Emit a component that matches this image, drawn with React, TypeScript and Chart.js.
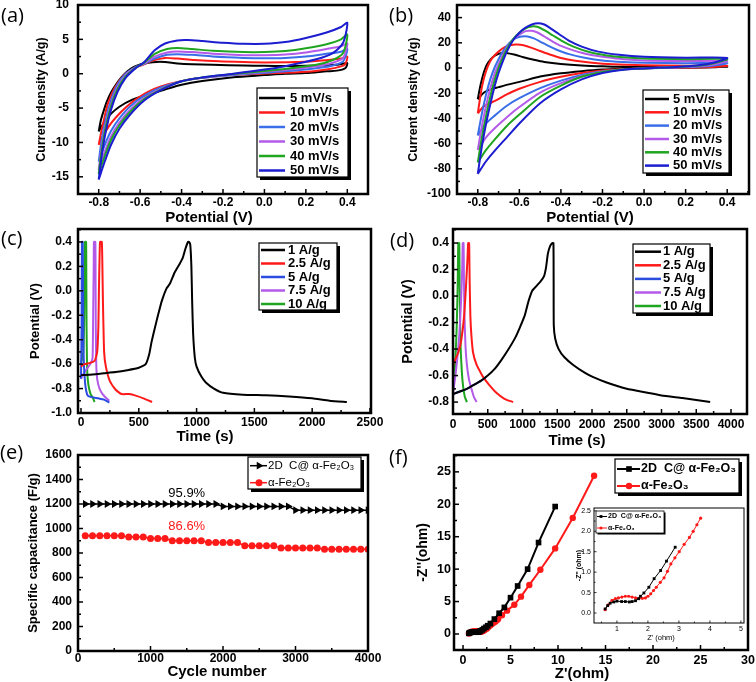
import React, { useEffect, useRef } from 'react';
import { Chart, registerables } from 'chart.js';

Chart.register(...registerables);

const PAGE_W = 756;
const PAGE_H = 682;
const FONT = "'Liberation Sans', Arial, Helvetica, sans-serif";
Chart.defaults.font.family = FONT;

type Pt = [number, number];

// ---------------- (a) CV, scan rates ----------------
const scanRates = ['5 mV/s', '10 mV/s', '20 mV/s', '30 mV/s', '40 mV/s', '50 mV/s'];
const cvColors = ['#000000', '#ff1a1a', '#3a6ee8', '#b35ae8', '#1fa51f', '#1c1cd0'];

const cvA5: Pt[] = [[-0.8,-8.4],[-0.79,-6.8],[-0.775,-5.3],[-0.76,-4.0],[-0.74,-2.7],[-0.715,-1.5],[-0.69,-0.5],[-0.66,0.4],[-0.63,1.0],[-0.6,1.35],[-0.56,1.6],[-0.52,1.72],[-0.48,1.7],[-0.42,1.5],[-0.35,1.38],[-0.25,1.3],[-0.1,1.2],[0.0,1.15],[0.1,1.12],[0.2,1.15],[0.3,1.25],[0.36,1.35],[0.4,1.55],[0.39,0.8],[0.35,0.45],[0.3,0.35],[0.2,0.1],[0.1,0.0],[0.0,-0.2],[-0.15,-0.5],[-0.3,-1.05],[-0.4,-1.6],[-0.48,-2.3],[-0.56,-3.05],[-0.64,-3.8],[-0.7,-4.8],[-0.74,-5.8],[-0.77,-6.9],[-0.8,-8.4]];
const cvA10: Pt[] = [[-0.8,-10.35],[-0.79,-8.8],[-0.78,-7.4],[-0.757,-4.5],[-0.724,-2.1],[-0.676,-0.15],[-0.628,0.83],[-0.587,1.3],[-0.54,1.9],[-0.48,2.3],[-0.42,2.2],[-0.34,2.0],[-0.22,1.8],[-0.1,1.7],[0.0,1.65],[0.15,1.7],[0.25,1.85],[0.31,2.0],[0.37,2.2],[0.4,2.5],[0.39,1.4],[0.37,1.07],[0.3,0.6],[0.226,0.34],[0.065,0.1],[-0.05,-0.05],[-0.18,-0.24],[-0.34,-0.73],[-0.42,-1.2],[-0.5,-1.85],[-0.56,-2.6],[-0.61,-3.5],[-0.65,-4.4],[-0.69,-5.5],[-0.74,-7.2],[-0.78,-9.1],[-0.8,-10.35]];
const cvA20: Pt[] = [[-0.8,-12.8],[-0.785,-9.5],[-0.765,-6.5],[-0.74,-3.8],[-0.71,-1.6],[-0.67,0.0],[-0.62,1.0],[-0.58,1.45],[-0.53,2.2],[-0.47,2.75],[-0.42,2.85],[-0.35,2.75],[-0.25,2.5],[-0.1,2.3],[0.0,2.25],[0.1,2.3],[0.2,2.5],[0.3,2.9],[0.37,3.2],[0.4,3.6],[0.38,1.8],[0.33,1.2],[0.25,0.8],[0.1,0.35],[0.0,0.15],[-0.15,-0.2],[-0.3,-0.6],[-0.4,-1.1],[-0.5,-2.0],[-0.58,-3.2],[-0.65,-4.8],[-0.7,-6.5],[-0.74,-8.3],[-0.77,-10.3],[-0.8,-12.8]];
const cvA30: Pt[] = [[-0.8,-14.0],[-0.785,-10.5],[-0.765,-7.2],[-0.74,-4.4],[-0.71,-2.0],[-0.67,-0.2],[-0.62,0.95],[-0.58,1.5],[-0.53,2.5],[-0.47,3.1],[-0.42,3.25],[-0.35,3.15],[-0.25,2.9],[-0.1,2.7],[0.0,2.7],[0.1,2.8],[0.2,3.1],[0.3,3.6],[0.37,4.0],[0.4,4.4],[0.38,2.3],[0.33,1.6],[0.25,1.1],[0.1,0.55],[0.0,0.3],[-0.15,-0.1],[-0.3,-0.6],[-0.4,-1.1],[-0.5,-2.2],[-0.58,-3.5],[-0.65,-5.3],[-0.7,-7.1],[-0.74,-9.1],[-0.77,-11.3],[-0.8,-14.0]];
const cvA40: Pt[] = [[-0.8,-14.6],[-0.785,-11.0],[-0.765,-7.6],[-0.74,-4.7],[-0.71,-2.3],[-0.67,-0.4],[-0.62,0.9],[-0.58,1.6],[-0.53,2.9],[-0.47,3.6],[-0.42,3.75],[-0.35,3.6],[-0.25,3.35],[-0.1,3.15],[0.0,3.15],[0.1,3.3],[0.2,3.7],[0.3,4.3],[0.37,5.0],[0.4,5.7],[0.38,3.0],[0.33,2.0],[0.25,1.3],[0.1,0.7],[0.0,0.4],[-0.15,-0.05],[-0.3,-0.55],[-0.4,-1.1],[-0.5,-2.3],[-0.58,-3.7],[-0.65,-5.6],[-0.7,-7.5],[-0.74,-9.6],[-0.77,-11.9],[-0.8,-14.6]];
const cvA50: Pt[] = [[-0.8,-15.4],[-0.785,-11.8],[-0.765,-8.3],[-0.74,-5.2],[-0.71,-2.7],[-0.67,-0.6],[-0.62,0.85],[-0.58,1.7],[-0.53,3.4],[-0.48,4.4],[-0.42,4.85],[-0.37,4.9],[-0.3,4.75],[-0.2,4.5],[-0.1,4.35],[0.0,4.35],[0.1,4.6],[0.2,5.2],[0.3,6.0],[0.37,6.8],[0.4,7.4],[0.38,4.5],[0.33,3.0],[0.25,2.1],[0.1,1.1],[0.0,0.6],[-0.15,0.0],[-0.3,-0.55],[-0.4,-1.1],[-0.5,-2.4],[-0.58,-3.9],[-0.65,-6.0],[-0.7,-8.0],[-0.74,-10.3],[-0.77,-12.7],[-0.8,-15.4]];

// ---------------- (b) CV ----------------
const cvB5: Pt[] = [[-0.8,-24.8],[-0.79,-16],[-0.78,-9],[-0.77,-3],[-0.757,2.5],[-0.74,6.5],[-0.72,9.5],[-0.7,11.2],[-0.68,12],[-0.66,11.8],[-0.62,10.5],[-0.58,8.5],[-0.53,6.5],[-0.48,4.8],[-0.4,3.2],[-0.3,2.0],[-0.2,1.3],[-0.1,0.9],[0.0,0.7],[0.2,0.6],[0.4,1.0],[0.3,0.4],[0.1,0.2],[0.0,0.0],[-0.1,-0.5],[-0.2,-1.2],[-0.3,-2.5],[-0.4,-4.2],[-0.5,-6.8],[-0.58,-10.2],[-0.65,-13],[-0.7,-15.2],[-0.74,-17],[-0.77,-19.5],[-0.8,-24.8]];
const cvB10: Pt[] = [[-0.8,-36],[-0.79,-25],[-0.78,-15],[-0.765,-5],[-0.75,2],[-0.73,8],[-0.7,13],[-0.67,16.5],[-0.64,18.3],[-0.61,18.6],[-0.58,18],[-0.54,16],[-0.5,13.5],[-0.45,10.5],[-0.4,8],[-0.33,5.8],[-0.25,4.2],[-0.15,3.0],[0.0,2.2],[0.2,1.7],[0.4,1.7],[0.3,0.6],[0.1,0.1],[0.0,-0.2],[-0.1,-0.8],[-0.2,-2.0],[-0.3,-4],[-0.4,-7],[-0.5,-11],[-0.6,-16.5],[-0.66,-21],[-0.71,-25.5],[-0.75,-28.5],[-0.775,-31],[-0.8,-36]];
const cvB20: Pt[] = [[-0.8,-53.6],[-0.78,-36],[-0.76,-21],[-0.74,-9],[-0.72,0],[-0.7,7],[-0.68,13],[-0.65,19.5],[-0.62,23.5],[-0.59,25],[-0.56,25],[-0.53,23.5],[-0.5,21],[-0.46,17.5],[-0.42,14.5],[-0.36,11],[-0.28,8],[-0.2,6],[-0.1,4.8],[0.0,4.2],[0.2,3.8],[0.4,3.8],[0.3,1.3],[0.15,0.4],[0.0,-0.3],[-0.1,-1.2],[-0.2,-2.8],[-0.3,-5.5],[-0.4,-10],[-0.5,-16],[-0.6,-24],[-0.66,-30],[-0.72,-38],[-0.76,-44],[-0.8,-53.6]];
const cvB30: Pt[] = [[-0.8,-65],[-0.78,-46],[-0.76,-30],[-0.74,-16],[-0.72,-5],[-0.7,3],[-0.68,10],[-0.66,16],[-0.63,22.5],[-0.6,26.5],[-0.57,29.3],[-0.54,29.5],[-0.51,28],[-0.48,25],[-0.44,21],[-0.4,17.5],[-0.34,14],[-0.26,10.5],[-0.18,8.5],[-0.1,7],[0.0,6],[0.2,5.5],[0.4,5.5],[0.3,2],[0.15,0.6],[0.0,-0.3],[-0.1,-1.2],[-0.2,-3],[-0.3,-6.5],[-0.4,-12],[-0.5,-19.5],[-0.6,-31],[-0.66,-39],[-0.72,-48],[-0.76,-55],[-0.8,-65]];
const cvB40: Pt[] = [[-0.8,-75],[-0.78,-55],[-0.76,-38],[-0.74,-23],[-0.72,-10],[-0.7,0],[-0.68,8],[-0.66,15],[-0.63,23],[-0.6,28],[-0.57,31.5],[-0.54,33],[-0.51,32.5],[-0.48,30],[-0.44,26],[-0.4,22],[-0.34,17],[-0.26,12.5],[-0.18,10],[-0.1,8.5],[0.0,7.5],[0.2,7],[0.4,7],[0.3,2.5],[0.15,0.8],[0.0,-0.3],[-0.1,-1.2],[-0.2,-3.2],[-0.3,-7],[-0.4,-14],[-0.5,-23],[-0.6,-37],[-0.66,-46],[-0.72,-57],[-0.76,-65],[-0.8,-75]];
const cvB50: Pt[] = [[-0.8,-84],[-0.78,-62],[-0.76,-44],[-0.74,-29],[-0.72,-15],[-0.7,-4],[-0.68,5],[-0.66,13],[-0.63,22],[-0.6,28],[-0.57,32],[-0.54,34.5],[-0.51,35.5],[-0.48,34.5],[-0.45,31.5],[-0.41,27],[-0.36,21.5],[-0.3,17],[-0.22,13],[-0.12,10.5],[0.0,9],[0.2,8.2],[0.4,8],[0.3,3],[0.15,0.8],[0.0,-0.3],[-0.1,-1.3],[-0.2,-4],[-0.3,-9],[-0.4,-17],[-0.5,-28],[-0.6,-44],[-0.66,-55],[-0.72,-66],[-0.76,-74],[-0.8,-84]];

// ---------------- (c) GCD ----------------
const currents = ['1 A/g', '2.5 A/g', '5 A/g', '7.5 A/g', '10 A/g'];
const gcdColors = ['#000000', '#ff1a1a', '#2a4de0', '#b35ae8', '#1fa51f'];
const gcdC1: Pt[] = [[0,-0.69],[100,-0.685],[200,-0.675],[300,-0.665],[400,-0.65],[500,-0.63],[560,-0.6],[590,-0.52],[610,-0.42],[640,-0.3],[666,-0.2],[700,-0.08],[740,0.02],[770,0.06],[810,0.15],[853,0.22],[880,0.27],[902,0.34],[925,0.4],[935,0.4],[945,0.38],[955,0.2],[962,-0.1],[970,-0.35],[985,-0.55],[1000,-0.62],[1040,-0.7],[1080,-0.75],[1150,-0.8],[1230,-0.835],[1400,-0.85],[1600,-0.855],[1800,-0.865],[2000,-0.88],[2150,-0.9],[2300,-0.91]];
const gcdC2: Pt[] = [[0,-0.62],[30,-0.6],[80,-0.59],[120,-0.57],[140,-0.5],[150,-0.3],[155,0.0],[160,0.25],[165,0.4],[180,0.4],[185,0.2],[190,-0.1],[200,-0.5],[215,-0.62],[250,-0.74],[300,-0.81],[350,-0.845],[420,-0.845],[480,-0.86],[540,-0.88],[615,-0.91]];
const gcdC3: Pt[] = [[0,-0.72],[5,-0.3],[8,0.4],[15,0.4],[18,0.0],[20,-0.4],[25,-0.6],[35,-0.75],[45,-0.82],[60,-0.86],[90,-0.87],[150,-0.88],[200,-0.89],[245,-0.915]];
const gcdC4: Pt[] = [[0,-0.72],[20,-0.68],[50,-0.64],[80,-0.6],[100,-0.55],[105,-0.2],[110,0.2],[112,0.4],[124,0.4],[126,0.1],[128,-0.3],[132,-0.6],[140,-0.72],[160,-0.8],[190,-0.85],[220,-0.88],[245,-0.9]];
const gcdC5: Pt[] = [[0,-0.6],[10,-0.55],[20,-0.5],[28,-0.2],[32,0.2],[34,0.4],[44,0.4],[46,0.1],[48,-0.3],[52,-0.6],[58,-0.72],[70,-0.8],[85,-0.85],[100,-0.87],[118,-0.91]];

// ---------------- (d) GCD ----------------
const gcdD1: Pt[] = [[0,-0.74],[100,-0.72],[200,-0.7],[300,-0.67],[400,-0.64],[500,-0.6],[600,-0.55],[700,-0.48],[800,-0.4],[900,-0.31],[960,-0.24],[1030,-0.15],[1080,-0.05],[1110,0.0],[1140,0.04],[1200,0.075],[1260,0.11],[1310,0.15],[1340,0.22],[1365,0.32],[1400,0.38],[1430,0.4],[1445,0.4],[1448,0.1],[1450,-0.22],[1470,-0.32],[1520,-0.4],[1600,-0.46],[1730,-0.52],[1900,-0.58],[2010,-0.61],[2200,-0.65],[2500,-0.7],[2800,-0.73],[3000,-0.75],[3300,-0.77],[3500,-0.785],[3700,-0.8]];
const gcdD2: Pt[] = [[0,-0.52],[40,-0.47],[80,-0.42],[120,-0.33],[160,-0.15],[190,0.1],[210,0.3],[218,0.4],[232,0.4],[240,0.1],[250,-0.15],[265,-0.3],[290,-0.43],[340,-0.52],[400,-0.58],[432,-0.61],[520,-0.67],[624,-0.73],[740,-0.775],[865,-0.8]];
const gcdD3: Pt[] = [[0,-0.74],[100,-0.72],[200,-0.7],[300,-0.67],[400,-0.64],[480,-0.61]];
const gcdD4: Pt[] = [[0,-0.73],[30,-0.62],[60,-0.48],[90,-0.3],[115,-0.05],[132,0.2],[140,0.4],[152,0.4],[158,0.1],[165,-0.15],[180,-0.38],[200,-0.52],[230,-0.63],[265,-0.7],[300,-0.76],[340,-0.8]];
const gcdD5: Pt[] = [[0,-0.72],[20,-0.6],[40,-0.42],[55,-0.2],[68,0.1],[76,0.4],[90,0.4],[96,0.1],[102,-0.2],[112,-0.42],[128,-0.58],[145,-0.68],[170,-0.76],[200,-0.8]];

// ---------------- (e) cycling ----------------
const seriesNames = ['2D  C@ \u03b1-Fe\u2082O\u2083', '\u03b1-Fe\u2082O\u2083'];
const cycles = [100,200,300,400,500,600,700,800,900,1000,1100,1200,1300,1400,1500,1600,1700,1800,1900,2000,2100,2200,2300,2400,2500,2600,2700,2800,2900,3000,3100,3200,3300,3400,3500,3600,3700,3800,3900,4000];
const capComposite = [1200,1200,1200,1200,1200,1200,1200,1200,1200,1200,1200,1200,1200,1200,1200,1200,1200,1200,1200,1180,1180,1180,1180,1180,1180,1180,1180,1180,1180,1150,1150,1150,1150,1150,1150,1150,1150,1150,1150,1150];
const capFe2O3 = [940,940,940,940,940,940,930,930,930,918,918,918,900,900,900,900,900,885,885,885,885,885,860,860,860,860,860,840,840,840,840,840,840,830,830,830,830,830,830,830];
const retention = ['95.9%', '86.6%'];

// ---------------- (f) Nyquist ----------------
const zReComposite = [0.62,0.7,0.78,0.9,1.0,1.15,1.27,1.4,1.49,1.6,1.7,1.76,1.87,2.03,2.2,2.41,2.6,2.88,3.3,3.8,4.35,5.0,5.75,6.8,7.95,9.7];
const zImComposite = [0.1,0.18,0.24,0.27,0.29,0.28,0.28,0.27,0.28,0.3,0.35,0.41,0.49,0.63,0.84,1.04,1.27,1.61,2.3,3.2,4.1,5.6,7.4,10.0,14.1,19.65];
const zReFe2O3 = [0.62,0.72,0.84,0.95,1.05,1.16,1.27,1.38,1.49,1.6,1.71,1.82,1.92,2.0,2.09,2.18,2.27,2.4,2.52,2.63,2.74,2.87,3.01,3.17,3.34,3.46,3.58,3.7,4.1,4.63,5.4,6.1,6.98,8.14,9.7,11.55,13.8];
const zImFe2O3 = [0.08,0.2,0.31,0.35,0.37,0.39,0.41,0.41,0.39,0.37,0.36,0.36,0.37,0.41,0.47,0.55,0.63,0.75,0.86,1.02,1.2,1.35,1.5,1.68,1.85,2.0,2.16,2.32,2.9,3.6,4.5,5.76,7.56,9.9,13.2,17.9,24.4];
// inset (high-frequency region) shows only the first points of each spectrum
const insetPointsComposite = 18;
const insetPointsFe2O3 = 28;

// ---------------- tick values ----------------
const cvXTicks = [-0.8, -0.6, -0.4, -0.2, 0, 0.2, 0.4];
const aYTicks = [-15, -10, -5, 0, 5, 10];
const bYTicks = [-100, -80, -60, -40, -20, 0, 20, 40];
const cXTicks = [0, 500, 1000, 1500, 2000, 2500];
const cYTicks = [-1.0, -0.8, -0.6, -0.4, -0.2, 0, 0.2, 0.4];
const dXTicks = [0, 500, 1000, 1500, 2000, 2500, 3000, 3500, 4000];
const dYTicks = [-0.8, -0.6, -0.4, -0.2, 0, 0.2, 0.4];
const eXTicks = [0, 1000, 2000, 3000, 4000];
const eYTicks = [0, 200, 400, 600, 800, 1000, 1200, 1400, 1600];
const fXTicks = [0, 5, 10, 15, 20, 25, 30];
const fYTicks = [0, 5, 10, 15, 20, 25];
const insetXTicks = [1, 2, 3, 4, 5];
const insetYTicks = [0, 0.5, 1.0, 1.5, 2.0, 2.5];

// ---------------- helpers ----------------
const fmt1 = (v: number) => (Math.abs(v) < 1e-9 ? 0 : v).toFixed(1);
const fmt0 = (v: number) => String(Math.round(v));
const toXY = (a: Pt[]) => a.map(([x, y]) => ({ x, y }));
const zip = (xs: number[], ys: number[], n = xs.length) => xs.slice(0, n).map((x, i) => ({ x, y: ys[i] }));

interface AxisSpec {
  min: number; max: number; ticks: number[]; fmt: (v: number) => string;
  tickFont: number; tickPad: number; title?: string; titleFont?: number; tickWeight?: string;
}
interface LegendSpec {
  x: number; y: number; w: number; h: number; shadow: number; frameW: number;
  lx1: number; lx2: number; tx: number; rows: number[]; font: string; lineW: number;
  markerX?: number; markerScale?: number;
}
interface Decor {
  frameW: number; tickW: number; majorLen: number; minorLen: number;
  xTitle?: { text: string; x: number; y: number; font: string };
  legend?: LegendSpec;
  notes?: { text: string; x: number; y: number; color: string; font: string }[];
  whiteBg?: boolean;
}
interface Panel {
  area: { l: number; t: number; r: number; b: number };
  yTitleX: number;
  x: AxisSpec; y: AxisSpec;
  datasets: any[];
  decor: Decor;
}

function drawMarker(ctx: CanvasRenderingContext2D, style: string, x: number, y: number, r: number, color: string) {
  ctx.fillStyle = color;
  ctx.beginPath();
  if (style === 'rect') {
    const s = r * Math.SQRT1_2;
    ctx.rect(x - s, y - s, 2 * s, 2 * s);
  } else if (style === 'triangle') {
    ctx.moveTo(x + r, y);
    ctx.lineTo(x - r * 0.5, y - r * 0.866);
    ctx.lineTo(x - r * 0.5, y + r * 0.866);
    ctx.closePath();
  } else {
    ctx.arc(x, y, r, 0, Math.PI * 2);
  }
  ctx.fill();
}

function makeDecor(d: Decor) {
  return {
    id: 'decor',
    beforeDraw(chart: any) {
      if (!d.whiteBg) return;
      const { ctx, chartArea: a } = chart;
      ctx.save();
      ctx.fillStyle = '#ffffff';
      ctx.fillRect(a.left, a.top, a.right - a.left, a.bottom - a.top);
      ctx.restore();
    },
    afterDraw(chart: any) {
      const { ctx, chartArea: a } = chart;
      const xs = chart.scales.x;
      const ys = chart.scales.y;
      ctx.save();
      ctx.strokeStyle = '#000';
      ctx.lineWidth = d.tickW;
      const minorVals = (sc: any) => {
        const tv = sc.ticks.map((t: any) => t.value);
        const out: number[] = [];
        if (tv.length < 2) return out;
        const step = tv[1] - tv[0];
        for (let v = tv[0] - step / 2; v <= sc.max + 1e-9; v += step) {
          if (v >= sc.min - 1e-9) out.push(v);
        }
        return out;
      };
      const tickX = (v: number, len: number) => {
        const p = xs.getPixelForValue(v);
        ctx.beginPath(); ctx.moveTo(p, a.bottom); ctx.lineTo(p, a.bottom - len); ctx.stroke();
      };
      const tickY = (v: number, len: number) => {
        const p = ys.getPixelForValue(v);
        ctx.beginPath(); ctx.moveTo(a.left, p); ctx.lineTo(a.left + len, p); ctx.stroke();
      };
      xs.ticks.forEach((t: any) => tickX(t.value, d.majorLen));
      ys.ticks.forEach((t: any) => tickY(t.value, d.majorLen));
      minorVals(xs).forEach((v) => tickX(v, d.minorLen));
      minorVals(ys).forEach((v) => tickY(v, d.minorLen));

      ctx.lineWidth = d.frameW;
      ctx.strokeRect(a.left, a.top, a.right - a.left, a.bottom - a.top);

      if (d.xTitle) {
        ctx.fillStyle = '#000';
        ctx.font = d.xTitle.font;
        ctx.textAlign = 'center';
        ctx.textBaseline = 'middle';
        ctx.fillText(d.xTitle.text, d.xTitle.x, d.xTitle.y);
      }
      if (d.notes) {
        d.notes.forEach((n) => {
          ctx.fillStyle = n.color;
          ctx.font = n.font;
          ctx.textAlign = 'center';
          ctx.textBaseline = 'middle';
          ctx.fillText(n.text, xs.getPixelForValue(n.x), ys.getPixelForValue(n.y));
        });
      }
      const L = d.legend;
      if (L) {
        ctx.fillStyle = '#000';
        ctx.fillRect(L.x + L.shadow, L.y + L.shadow, L.w, L.h);
        ctx.fillStyle = '#fff';
        ctx.fillRect(L.x, L.y, L.w, L.h);
        ctx.lineWidth = L.frameW;
        ctx.strokeStyle = '#000';
        ctx.strokeRect(L.x, L.y, L.w, L.h);
        let row = 0;
        chart.data.datasets.forEach((ds: any) => {
          if (!ds.label || ds.noLegend) return;
          const y = L.rows[row++];
          if (y === undefined) return;
          ctx.strokeStyle = ds.borderColor;
          ctx.lineWidth = L.lineW;
          ctx.beginPath(); ctx.moveTo(L.lx1, y); ctx.lineTo(L.lx2, y); ctx.stroke();
          if (L.markerX !== undefined && ds.pointStyle) {
            drawMarker(ctx, ds.pointStyle, L.markerX, y, (ds.pointRadius || 3) * (L.markerScale || 1), ds.borderColor);
          }
          ctx.fillStyle = '#000';
          ctx.font = L.font;
          ctx.textAlign = 'left';
          ctx.textBaseline = 'middle';
          ctx.fillText(ds.label, L.tx, y);
        });
      }
      ctx.restore();
    },
  };
}

function buildConfig(p: Panel): any {
  const titleFont = p.y.titleFont || 12;
  const padL = p.yTitleX - titleFont / 2;
  const yW = p.area.l - padL;
  const xH = 14;
  const padB = PAGE_H - p.area.b - xH;
  const zeroPad = (s: any) => { s.paddingLeft = 0; s.paddingRight = 0; s.paddingTop = 0; s.paddingBottom = 0; };
  const axis = (spec: AxisSpec, isX: boolean) => ({
    type: 'linear',
    position: isX ? 'bottom' : 'left',
    min: spec.min,
    max: spec.max,
    grid: { display: false, drawTicks: false },
    border: { display: false },
    ticks: {
      autoSkip: false, maxRotation: 0, minRotation: 0, padding: spec.tickPad, color: '#000',
      font: { family: FONT, size: spec.tickFont, weight: spec.tickWeight || 'bold' },
      callback: (v: any) => spec.fmt(Number(v)),
    },
    title: spec.title
      ? { display: true, text: spec.title, color: '#000', padding: 0, font: { family: FONT, size: titleFont, weight: 'bold', lineHeight: 1 } }
      : { display: false },
    afterBuildTicks: (s: any) => { s.ticks = spec.ticks.map((v) => ({ value: v })); },
    afterFit: (s: any) => {
      if (isX) s.height = xH; else s.width = yW;
      zeroPad(s);
    },
  });
  return {
    type: 'scatter',
    data: { datasets: p.datasets },
    options: {
      animation: false,
      responsive: false,
      devicePixelRatio: 1,
      events: [],
      layout: { padding: { left: padL, top: p.area.t, right: PAGE_W - p.area.r, bottom: padB } },
      plugins: { legend: { display: false }, tooltip: { enabled: false }, title: { display: false } },
      scales: { x: axis(p.x, true), y: axis(p.y, false) },
    },
    plugins: [makeDecor(p.decor)],
  };
}

const curve = (label: string, pts: Pt[], color: string, order: number, width = 2, tension = 0.25) => ({
  label, data: toXY(pts), showLine: true, borderColor: color, backgroundColor: color,
  borderWidth: width, pointRadius: 0, tension, fill: false, order,
});

const cvLegend = (x: number, y: number, w: number, h: number, lx1: number, lx2: number, tx: number, rows: number[]): LegendSpec => ({
  x, y, w, h, shadow: 3, frameW: 1.2, lx1, lx2, tx, rows, font: `bold 13px ${FONT}`, lineW: 2.5,
});

const panels: Panel[] = [
  {
    area: { l: 78, t: 5, r: 368, b: 194 }, yTitleX: 42,
    x: { min: -0.9, max: 0.5, ticks: cvXTicks, fmt: fmt1, tickFont: 12, tickPad: 1 },
    y: { min: -17.5, max: 10, ticks: aYTicks, fmt: fmt0, tickFont: 12, tickPad: 9, title: 'Current density (A/g)', titleFont: 12.5 },
    datasets: [cvA5, cvA10, cvA20, cvA30, cvA40, cvA50].map((c, i) => curve(scanRates[i], c, cvColors[i], -i)),
    decor: {
      frameW: 2.5, tickW: 1.5, majorLen: 5, minorLen: 3,
      xTitle: { text: 'Potential (V)', x: 209, y: 218, font: `bold 15px ${FONT}` },
      legend: cvLegend(257, 88, 91, 89, 259, 285, 290, [98, 112.5, 127, 141.5, 156, 170.5]),
    },
  },
  {
    area: { l: 457, t: 5, r: 749, b: 194 }, yTitleX: 414,
    x: { min: -0.9, max: 0.505, ticks: cvXTicks, fmt: fmt1, tickFont: 12, tickPad: 1 },
    y: { min: -100, max: 50, ticks: bYTicks, fmt: fmt0, tickFont: 12, tickPad: 6, title: 'Current density (A/g)', titleFont: 12.5 },
    datasets: [cvB5, cvB10, cvB20, cvB30, cvB40, cvB50].map((c, i) => curve(scanRates[i], c, cvColors[i], -i)),
    decor: {
      frameW: 2.5, tickW: 1.5, majorLen: 5, minorLen: 3,
      xTitle: { text: 'Potential (V)', x: 590, y: 218, font: `bold 15px ${FONT}` },
      legend: cvLegend(643, 90, 86, 83, 645, 669, 673, [99, 112.3, 125.6, 139, 152.3, 165.6]),
    },
  },
  {
    area: { l: 78, t: 229, r: 371, b: 413 }, yTitleX: 35,
    x: { min: -26, max: 2509, ticks: cXTicks, fmt: fmt0, tickFont: 12, tickPad: 2 },
    y: { min: -1.0, max: 0.506, ticks: cYTicks, fmt: fmt1, tickFont: 12, tickPad: 6, title: 'Potential (V)', titleFont: 13 },
    datasets: [gcdC1, gcdC2, gcdC3, gcdC4, gcdC5].map((c, i) => curve(currents[i], c, gcdColors[i], 0, 2, 0.15)),
    decor: {
      frameW: 2.5, tickW: 1.5, majorLen: 5, minorLen: 3,
      xTitle: { text: 'Time (s)', x: 205, y: 437, font: `bold 15px ${FONT}` },
      legend: cvLegend(259, 243, 78, 67, 261, 285, 288, [250, 263.5, 277, 290.5, 304]),
    },
  },
  {
    area: { l: 453, t: 229, r: 747, b: 414 }, yTitleX: 408,
    x: { min: 0, max: 4230, ticks: dXTicks, fmt: fmt0, tickFont: 12, tickPad: 3.5 },
    y: { min: -0.89, max: 0.506, ticks: dYTicks, fmt: fmt1, tickFont: 12, tickPad: 4, title: 'Potential (V)', titleFont: 14.5 },
    datasets: [gcdD1, gcdD2, gcdD3, gcdD4, gcdD5].map((c, i) => curve(currents[i], c, gcdColors[i], i === 2 ? 5 : 0, 2, 0.15)),
    decor: {
      frameW: 2.5, tickW: 1.5, majorLen: 5, minorLen: 3,
      xTitle: { text: 'Time (s)', x: 577, y: 441, font: `bold 15px ${FONT}` },
      legend: cvLegend(633, 244, 77, 69, 635, 661, 663, [251.7, 265.3, 278.9, 292.5, 306]),
    },
  },
  {
    area: { l: 78, t: 455, r: 368, b: 651 }, yTitleX: 33,
    x: { min: 0, max: 4000, ticks: eXTicks, fmt: fmt0, tickFont: 12, tickPad: 0.5 },
    y: { min: 0, max: 1600, ticks: eYTicks, fmt: fmt0, tickFont: 12, tickPad: 6, title: 'Specific capacitance (F/g)', titleFont: 13 },
    datasets: [
      { label: seriesNames[0], data: zip(cycles, capComposite), showLine: true, borderColor: '#000', backgroundColor: '#000', borderWidth: 1.5, pointStyle: 'triangle', rotation: 90, pointRadius: 4.5, pointBorderWidth: 0, pointBackgroundColor: '#000' },
      { label: seriesNames[1], data: zip(cycles, capFe2O3), showLine: true, borderColor: '#ff1a1a', backgroundColor: '#ff1a1a', borderWidth: 1.5, pointStyle: 'circle', pointRadius: 3.5, pointBorderWidth: 0, pointBackgroundColor: '#ff1a1a' },
    ],
    decor: {
      frameW: 2.5, tickW: 1.5, majorLen: 5, minorLen: 3,
      xTitle: { text: 'Cycle number', x: 217, y: 672, font: `bold 15px ${FONT}` },
      notes: [
        { text: retention[0], x: 1500, y: 1287, color: '#000', font: `13px ${FONT}` },
        { text: retention[1], x: 1500, y: 1015, color: '#ff1a1a', font: `13px ${FONT}` },
      ],
      legend: { x: 248, y: 457, w: 113, h: 32, shadow: 3, frameW: 1.2, lx1: 250, lx2: 267, tx: 268, rows: [465.7, 482.7], font: `11.5px ${FONT}`, lineW: 1.5, markerX: 259, markerScale: 1 },
    },
  },
  {
    area: { l: 454, t: 455, r: 748, b: 650 }, yTitleX: 423,
    x: { min: -0.95, max: 30, ticks: fXTicks, fmt: fmt0, tickFont: 12.5, tickPad: 3 },
    y: { min: -2.47, max: 27.6, ticks: fYTicks, fmt: fmt0, tickFont: 12.5, tickPad: 3, title: "-Z''(ohm)", titleFont: 14 },
    datasets: [
      { label: seriesNames[0], data: zip(zReComposite, zImComposite), showLine: true, borderColor: '#000', backgroundColor: '#000', borderWidth: 2, pointStyle: 'rect', pointRadius: 4, pointBorderWidth: 0, pointBackgroundColor: '#000' },
      { label: seriesNames[1], data: zip(zReFe2O3, zImFe2O3), showLine: true, borderColor: '#ff1a1a', backgroundColor: '#ff1a1a', borderWidth: 2, pointStyle: 'circle', pointRadius: 3.2, pointBorderWidth: 0, pointBackgroundColor: '#ff1a1a' },
    ],
    decor: {
      frameW: 2.5, tickW: 1.5, majorLen: 5, minorLen: 3,
      xTitle: { text: "Z'(ohm)", x: 582, y: 674, font: `bold 15px ${FONT}` },
      legend: { x: 615, y: 459, w: 124, h: 34, shadow: 3, frameW: 1.2, lx1: 617, lx2: 640, tx: 641, rows: [469, 486], font: `bold 12.5px ${FONT}`, lineW: 2, markerX: 629, markerScale: 1 },
    },
  },
  {
    area: { l: 594, t: 508, r: 744, b: 623 }, yTitleX: 578.7,
    x: { min: 0.26, max: 5.1, ticks: insetXTicks, fmt: fmt0, tickFont: 7, tickPad: 2, tickWeight: 'normal' },
    y: { min: -0.245, max: 2.57, ticks: insetYTicks, fmt: fmt1, tickFont: 7, tickPad: 3, title: "-Z'' (ohm)", titleFont: 7, tickWeight: 'normal' },
    datasets: [
      { label: seriesNames[0], data: zip(zReComposite, zImComposite, insetPointsComposite), showLine: true, borderColor: '#000', backgroundColor: '#000', borderWidth: 1, pointStyle: 'rect', pointRadius: 2, pointBorderWidth: 0, pointBackgroundColor: '#000' },
      { label: seriesNames[1], data: zip(zReFe2O3, zImFe2O3, insetPointsFe2O3), showLine: true, borderColor: '#ff1a1a', backgroundColor: '#ff1a1a', borderWidth: 1, pointStyle: 'circle', pointRadius: 1.6, pointBorderWidth: 0, pointBackgroundColor: '#ff1a1a' },
    ],
    decor: {
      frameW: 1, tickW: 0.8, majorLen: 2.5, minorLen: 1.5, whiteBg: true,
      xTitle: { text: "Z' (ohm)", x: 661, y: 637.7, font: `7.5px ${FONT}` },
      legend: { x: 596, y: 511, w: 68, h: 22, shadow: 1.5, frameW: 0.8, lx1: 597, lx2: 607, tx: 608, rows: [516.5, 528], font: `bold 7px ${FONT}`, lineW: 1, markerX: 601, markerScale: 1 },
    },
  },
];

const panelLabels = [
  { t: '(a)', x: 1, y: 4 },
  { t: '(b)', x: 389, y: 4 },
  { t: '(c)', x: 1, y: 227 },
  { t: '(d)', x: 390, y: 229 },
  { t: '(e)', x: 0, y: 441 },
  { t: '(f)', x: 389, y: 446 },
];

export default function App() {
  const canvases = useRef<(HTMLCanvasElement | null)[]>([]);
  useEffect(() => {
    const charts = panels.map((p, i) => new Chart(canvases.current[i] as HTMLCanvasElement, buildConfig(p)));
    return () => charts.forEach((c) => c.destroy());
  }, []);
  return (
    <div style={{ position: 'absolute', left: 0, top: 0, width: PAGE_W, height: PAGE_H, background: '#fff', overflow: 'hidden' }}>
      {panels.map((_, i) => (
        <canvas
          key={i}
          ref={(el) => { canvases.current[i] = el; }}
          width={PAGE_W}
          height={PAGE_H}
          style={{ position: 'absolute', left: 0, top: 0, width: PAGE_W, height: PAGE_H }}
        />
      ))}
      {panelLabels.map((l) => (
        <div
          key={l.t}
          style={{ position: 'absolute', left: l.x, top: l.y, fontFamily: "'Open Sans', sans-serif", fontSize: 20, lineHeight: '22px', color: '#000' }}
        >
          {l.t}
        </div>
      ))}
    </div>
  );
}
